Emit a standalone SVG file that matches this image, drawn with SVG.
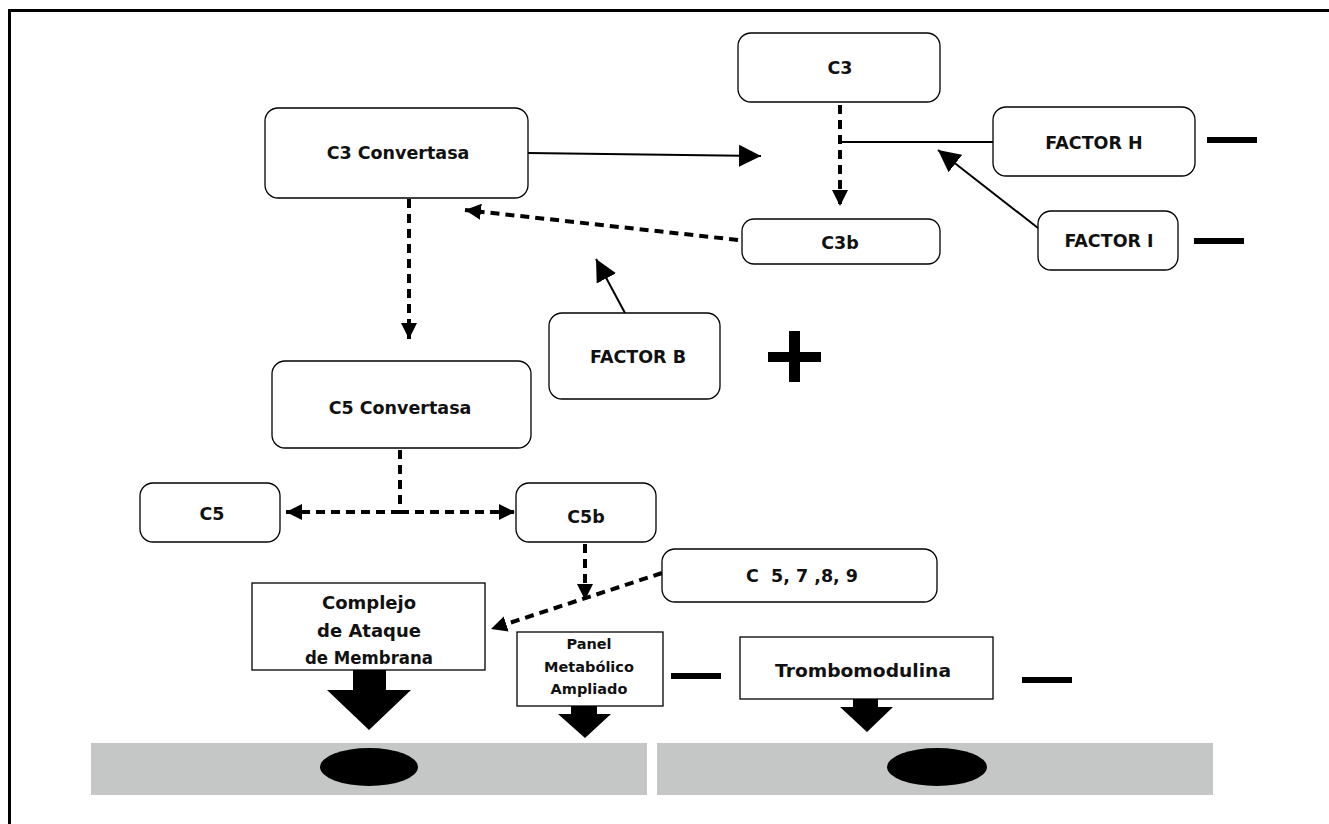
<svg xmlns="http://www.w3.org/2000/svg" width="1329" height="824" viewBox="0 0 1329 824">
<defs>
<style>
.box{fill:#fff;stroke:#000;stroke-width:1.3}
.t{font-family:"DejaVu Sans",sans-serif;font-weight:bold;font-size:17.5px;fill:#111;text-anchor:middle}
.sm{font-size:14.5px}
.big{font-size:18px}
.solid{stroke:#000;stroke-width:2;fill:none}
.dash{stroke:#000;stroke-width:4;fill:none;stroke-dasharray:9 6}
.band{fill:#c5c7c6}
</style>
<marker id="ah" markerUnits="userSpaceOnUse" markerWidth="24" markerHeight="24" viewBox="0 0 24 24" refX="22" refY="12" orient="auto">
<path d="M0,1 L22,12 L0,23 Z" fill="#000"/>
</marker>
<marker id="ahd" markerUnits="userSpaceOnUse" markerWidth="18" markerHeight="18" viewBox="0 0 18 18" refX="16" refY="9" orient="auto">
<path d="M0,1 L16,9 L0,17 Z" fill="#000"/>
</marker>
</defs>
<rect width="1329" height="824" fill="#fff"/>
<path d="M9.5,824 V10.5 H1329" fill="none" stroke="#000" stroke-width="3"/>

<g id="membrane">
<rect class="band" x="91" y="743" width="556" height="52"/>
<rect class="band" x="657" y="743" width="556" height="52"/>
<ellipse cx="369" cy="767" rx="49" ry="19" fill="#000"/>
<ellipse cx="937" cy="767" rx="50" ry="19" fill="#000"/>
</g>

<g id="connectors">
<line class="solid" x1="528" y1="153" x2="761" y2="156" marker-end="url(#ah)"/>
<line class="dash" x1="840" y1="105" x2="840" y2="206" marker-end="url(#ahd)"/>
<line class="solid" x1="840" y1="142" x2="993" y2="142"/>
<line class="solid" x1="1038" y1="228" x2="938" y2="150" marker-end="url(#ah)"/>
<line class="dash" x1="738" y1="240" x2="465" y2="210" marker-end="url(#ahd)"/>
<line class="solid" x1="625" y1="313" x2="596" y2="259" marker-end="url(#ah)"/>
<line class="dash" x1="409" y1="199" x2="409" y2="339" marker-end="url(#ahd)"/>
<line class="dash" x1="400" y1="450" x2="400" y2="512"/>
<line class="dash" x1="400" y1="512" x2="286" y2="512" marker-end="url(#ahd)"/>
<line class="dash" x1="400" y1="512" x2="515" y2="512" marker-end="url(#ahd)"/>
<line class="dash" x1="585" y1="544" x2="585" y2="600" marker-end="url(#ahd)"/>
<line class="dash" x1="662" y1="573" x2="491" y2="629" marker-end="url(#ahd)"/>
<polygon points="353,670 386,670 386,690 411,690 369,730 327,690 353,690" fill="#000"/>
<polygon points="571,706 597,706 597,714 611,714 585,738 558,714 571,714" fill="#000"/>
<polygon points="853,699 878,699 878,707 893,707 867,732 840,707 853,707" fill="#000"/>
</g>

<g id="signs">
<rect x="1207" y="137" width="50" height="6" fill="#000"/>
<rect x="1194" y="238" width="50" height="6" fill="#000"/>
<rect x="671" y="673" width="50" height="6" fill="#000"/>
<rect x="1022" y="677" width="50" height="6" fill="#000"/>
<rect x="768" y="352" width="53" height="10" fill="#000"/>
<rect x="789" y="331" width="11" height="51" fill="#000"/>
</g>

<g id="C3"><rect class="box" x="738" y="33" width="202" height="69" rx="13"/><text class="t" x="840" y="74">C3</text></g>
<g id="C3Convertasa"><rect class="box" x="265" y="108" width="263" height="90" rx="13"/><text class="t" x="398" y="159">C3 Convertasa</text></g>
<g id="FactorH"><rect class="box" x="993" y="107" width="202" height="69" rx="13"/><text class="t" x="1094" y="149">FACTOR H</text></g>
<g id="FactorI"><rect class="box" x="1038" y="211" width="140" height="59" rx="13"/><text class="t" x="1109" y="247">FACTOR I</text></g>
<g id="C3b"><rect class="box" x="742" y="219" width="198" height="45" rx="12"/><text class="t" x="840" y="249">C3b</text></g>
<g id="FactorB"><rect class="box" x="549" y="313" width="171" height="86" rx="13"/><text class="t" x="638" y="363">FACTOR B</text></g>
<g id="C5Convertasa"><rect class="box" x="272" y="361" width="259" height="87" rx="13"/><text class="t" x="400" y="414">C5 Convertasa</text></g>
<g id="C5"><rect class="box" x="140" y="483" width="140" height="59" rx="13"/><text class="t" x="212" y="520">C5</text></g>
<g id="C5b"><rect class="box" x="516" y="483" width="140" height="59" rx="13"/><text class="t" x="586" y="523">C5b</text></g>
<g id="C5789"><rect class="box" x="662" y="549" width="275" height="53" rx="13"/><text class="t" x="802" y="582" xml:space="preserve">C  5, 7 ,8, 9</text></g>
<g id="Complejo"><rect class="box" x="252" y="583" width="233" height="87"/>
<text class="t big" x="369" y="609">Complejo</text>
<text class="t big" x="369" y="637">de Ataque</text>
<text class="t big" x="369" y="664" textLength="128" lengthAdjust="spacingAndGlyphs">de Membrana</text></g>
<g id="Panel"><rect class="box" x="517" y="632" width="146" height="74"/>
<text class="t sm" x="589" y="649">Panel</text>
<text class="t sm" x="589" y="672">Metabólico</text>
<text class="t sm" x="589" y="694">Ampliado</text></g>
<g id="Trombomodulina"><rect class="box" x="740" y="637" width="253" height="62"/><text class="t" x="863" y="677" textLength="176" lengthAdjust="spacingAndGlyphs">Trombomodulina</text></g>
</svg>
